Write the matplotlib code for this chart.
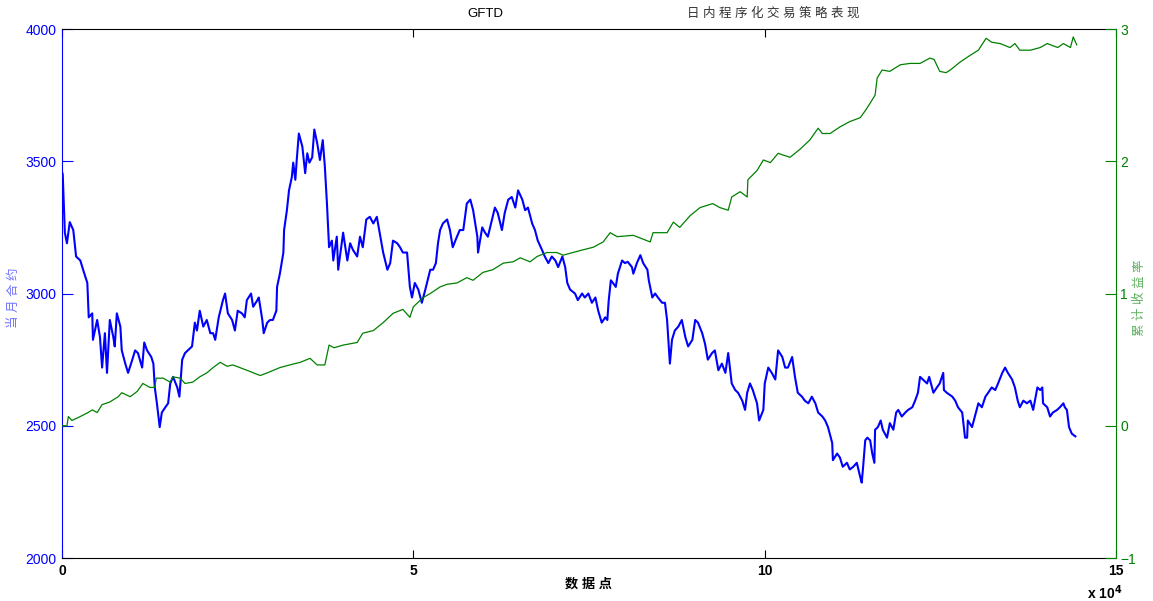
import numpy as np
import matplotlib.pyplot as plt

plt.rcParams['font.family'] = ['Liberation Sans', 'Noto Sans CJK SC']

# 当月合约价格（横轴单位：1e4 个数据点）
blue_x = [0.00, 0.01, 0.04, 0.07, 0.11, 0.16, 0.20, 0.26, 0.30, 0.36, 0.38, 0.43, 0.44, 0.50,
          0.54, 0.57, 0.61, 0.64, 0.68, 0.73, 0.75, 0.78, 0.83, 0.85, 0.90, 0.94, 1.00, 1.04,
          1.08, 1.14, 1.17, 1.21, 1.27, 1.30, 1.32, 1.35, 1.39, 1.42, 1.47, 1.51, 1.54, 1.58,
          1.64, 1.67, 1.71, 1.75, 1.79, 1.85, 1.89, 1.92, 1.96, 2.01, 2.06, 2.11, 2.15, 2.18,
          2.23, 2.29, 2.32, 2.36, 2.42, 2.46, 2.50, 2.56, 2.60, 2.63, 2.69, 2.72, 2.78, 2.80,
          2.85, 2.87, 2.92, 2.96, 3.00, 3.05, 3.06, 3.10, 3.15, 3.16, 3.20, 3.23, 3.27, 3.29,
          3.32, 3.34, 3.37, 3.42, 3.46, 3.49, 3.52, 3.56, 3.59, 3.63, 3.67, 3.71, 3.74, 3.77,
          3.80, 3.84, 3.86, 3.91, 3.93, 4.00, 4.06, 4.10, 4.14, 4.20, 4.24, 4.28, 4.33, 4.38,
          4.43, 4.48, 4.53, 4.57, 4.63, 4.67, 4.71, 4.77, 4.81, 4.85, 4.91, 4.95, 4.98, 5.02,
          5.07, 5.12, 5.17, 5.24, 5.28, 5.32, 5.35, 5.38, 5.42, 5.48, 5.52, 5.56, 5.62, 5.66,
          5.71, 5.76, 5.81, 5.85, 5.91, 5.92, 5.98, 6.02, 6.06, 6.12, 6.16, 6.20, 6.26, 6.30,
          6.35, 6.40, 6.45, 6.49, 6.55, 6.59, 6.63, 6.69, 6.73, 6.77, 6.83, 6.87, 6.92, 6.97,
          7.02, 7.06, 7.12, 7.16, 7.19, 7.23, 7.30, 7.34, 7.40, 7.44, 7.49, 7.54, 7.59, 7.63,
          7.68, 7.73, 7.76, 7.78, 7.81, 7.84, 7.88, 7.91, 7.97, 8.01, 8.05, 8.11, 8.13, 8.18,
          8.23, 8.27, 8.33, 8.35, 8.40, 8.44, 8.48, 8.54, 8.58, 8.61, 8.62, 8.65, 8.68, 8.72,
          8.77, 8.82, 8.87, 8.91, 8.97, 9.01, 9.05, 9.11, 9.15, 9.19, 9.25, 9.29, 9.34, 9.39,
          9.44, 9.48, 9.53, 9.58, 9.62, 9.68, 9.72, 9.75, 9.79, 9.83, 9.89, 9.92, 9.98, 10.00,
          10.05, 10.10, 10.15, 10.19, 10.25, 10.29, 10.33, 10.39, 10.43, 10.47, 10.53, 10.57,
          10.62, 10.67, 10.72, 10.76, 10.82, 10.86, 10.90, 10.96, 10.97, 11.03, 11.07, 11.11,
          11.17, 11.21, 11.26, 11.31, 11.36, 11.38, 11.40, 11.43, 11.46, 11.50, 11.53, 11.56,
          11.57, 11.61, 11.65, 11.68, 11.74, 11.78, 11.83, 11.87, 11.90, 11.95, 12.00, 12.04,
          12.10, 12.14, 12.18, 12.21, 12.25, 12.31, 12.34, 12.38, 12.40, 12.45, 12.49, 12.54,
          12.55, 12.59, 12.67, 12.71, 12.75, 12.81, 12.85, 12.88, 12.89, 12.95, 12.99, 13.04,
          13.09, 13.14, 13.18, 13.23, 13.28, 13.32, 13.38, 13.42, 13.46, 13.52, 13.56, 13.60,
          13.63, 13.68, 13.73, 13.78, 13.82, 13.88, 13.92, 13.95, 13.96, 14.02, 14.06, 14.10,
          14.16, 14.20, 14.25, 14.27, 14.30, 14.33, 14.37, 14.42]
blue_price = [3460, 3450, 3230, 3190, 3270, 3240, 3140, 3125, 3090, 3040, 2910, 2925, 2825, 2900,
              2835, 2720, 2850, 2700, 2900, 2835, 2800, 2925, 2875, 2785, 2735, 2700, 2750, 2785,
              2775, 2720, 2815, 2785, 2760, 2735, 2645, 2585, 2495, 2550, 2570, 2585, 2660, 2685,
              2645, 2610, 2750, 2775, 2785, 2800, 2890, 2860, 2935, 2875, 2900, 2850, 2850, 2825,
              2910, 2975, 3000, 2925, 2900, 2860, 2935, 2925, 2910, 2975, 3000, 2950, 2975, 2985,
              2900, 2850, 2890, 2900, 2900, 2935, 3025, 3075, 3155, 3240, 3315, 3390, 3440, 3495,
              3430, 3505, 3605, 3555, 3455, 3530, 3495, 3515, 3620, 3570, 3505, 3580, 3480, 3340,
              3175, 3200, 3125, 3215, 3090, 3230, 3125, 3190, 3165, 3140, 3215, 3175, 3280, 3290,
              3265, 3290, 3215, 3155, 3090, 3115, 3200, 3190, 3175, 3155, 3155, 3025, 2985, 3040,
              3015, 2965, 3015, 3090, 3090, 3115, 3190, 3240, 3265, 3280, 3240, 3175, 3215, 3240,
              3240, 3340, 3355, 3315, 3215, 3155, 3250, 3230, 3215, 3280, 3325, 3305, 3240, 3305,
              3355, 3365, 3325, 3390, 3355, 3315, 3325, 3265, 3240, 3200, 3165, 3140, 3115, 3140,
              3125, 3100, 3140, 3100, 3040, 3015, 3000, 2975, 3000, 2985, 3000, 2965, 2985, 2935,
              2890, 2910, 2900, 2975, 3050, 3040, 3025, 3075, 3125, 3115, 3120, 3100, 3075, 3115,
              3145, 3115, 3090, 3050, 2985, 3000, 2985, 2965, 2965, 2900, 2860, 2735, 2825, 2860,
              2875, 2900, 2835, 2800, 2825, 2900, 2890, 2850, 2810, 2750, 2775, 2785, 2710, 2735,
              2700, 2775, 2660, 2635, 2625, 2595, 2560, 2625, 2660, 2635, 2585, 2520, 2560, 2660,
              2720, 2700, 2675, 2785, 2760, 2720, 2720, 2760, 2685, 2625, 2610, 2595,
              2585, 2610, 2585, 2550, 2535, 2520, 2495, 2435, 2370, 2395, 2380, 2345,
              2360, 2335, 2345, 2360, 2305, 2285, 2345, 2445, 2455, 2445, 2395, 2360,
              2485, 2495, 2520, 2485, 2455, 2510, 2485, 2550, 2560, 2535, 2550, 2560,
              2570, 2595, 2625, 2685, 2675, 2660, 2685, 2645, 2625, 2645, 2660, 2700,
              2635, 2625, 2610, 2595, 2570, 2550, 2455, 2455, 2520, 2495, 2535, 2585,
              2570, 2610, 2625, 2645, 2635, 2660, 2700, 2720, 2700, 2675, 2645, 2595,
              2570, 2595, 2585, 2595, 2560, 2645, 2635, 2645, 2585, 2570, 2535, 2550,
              2560, 2570, 2585, 2570, 2560, 2495, 2470, 2460]

# 累计收益率
green_x = [0.00, 0.01, 0.03, 0.07, 0.09, 0.14, 0.26, 0.37, 0.43, 0.50, 0.57, 0.68, 0.80, 0.85,
           0.97, 1.07, 1.15, 1.25, 1.32, 1.34, 1.44, 1.54, 1.58, 1.68, 1.75, 1.86, 1.96, 2.06,
           2.15, 2.25, 2.35, 2.43, 2.63, 2.82, 2.92, 3.10, 3.24, 3.39, 3.53, 3.63, 3.74, 3.80,
           3.87, 4.00, 4.20, 4.28, 4.43, 4.57, 4.71, 4.85, 4.95, 5.00, 5.14, 5.24, 5.38, 5.48,
           5.62, 5.76, 5.85, 5.99, 6.13, 6.28, 6.42, 6.52, 6.66, 6.76, 6.90, 7.04, 7.13, 7.27,
           7.41, 7.56, 7.70, 7.80, 7.90, 8.13, 8.37, 8.41, 8.61, 8.70, 8.79, 8.94, 9.08, 9.26,
           9.36, 9.48, 9.53, 9.65, 9.75, 9.76, 9.89, 9.98, 10.08, 10.19, 10.36, 10.50, 10.64,
           10.76, 10.82, 10.93, 11.07, 11.21, 11.36, 11.44, 11.50, 11.57, 11.60, 11.67, 11.78,
           11.93, 12.07, 12.21, 12.35, 12.41, 12.49, 12.58, 12.64, 12.78, 12.92, 13.04, 13.15,
           13.23, 13.35, 13.49, 13.56, 13.63, 13.78, 13.92, 14.02, 14.17, 14.25, 14.35, 14.39,
           14.44]
green_ret = [0.00, 0.00, 0.00, 0.00, 0.07, 0.04, 0.07, 0.10, 0.12, 0.10, 0.16, 0.18, 0.22, 0.25,
             0.22, 0.26, 0.32, 0.29, 0.29, 0.36, 0.36, 0.33, 0.37, 0.36, 0.32, 0.33, 0.37, 0.40,
             0.44, 0.48, 0.45, 0.46, 0.42, 0.38, 0.40, 0.44, 0.46, 0.48, 0.51, 0.46, 0.46, 0.61,
             0.59, 0.61, 0.63, 0.70, 0.72, 0.78, 0.85, 0.88, 0.82, 0.90, 0.97, 1.00, 1.05, 1.07,
             1.08, 1.12, 1.10, 1.16, 1.18, 1.23, 1.24, 1.27, 1.24, 1.28, 1.31, 1.31, 1.29, 1.31,
             1.33, 1.35, 1.39, 1.46, 1.43, 1.44, 1.39, 1.46, 1.46, 1.54, 1.50, 1.59, 1.65, 1.68,
             1.65, 1.63, 1.73, 1.77, 1.73, 1.86, 1.93, 2.01, 1.99, 2.06, 2.03, 2.09, 2.16,
             2.25, 2.21, 2.21, 2.26, 2.30, 2.33, 2.39, 2.44, 2.50, 2.63, 2.69, 2.68,
             2.73, 2.74, 2.74, 2.78, 2.77, 2.68, 2.67, 2.69, 2.75, 2.80, 2.84, 2.93,
             2.90, 2.89, 2.86, 2.89, 2.84, 2.84, 2.86, 2.89, 2.86, 2.89, 2.86, 2.94,
             2.88]

x_ticks = [0, 5, 10, 15]
left_ticks = [2000, 2500, 3000, 3500, 4000]
right_ticks = [-1, 0, 1, 2, 3]

blue = '#0000ff'
green = '#008000'

fig = plt.figure(figsize=(11.53, 6.01), dpi=100)
ax1 = fig.add_axes([0.0538, 0.0715, 0.9142, 0.8802])
ax1.plot(np.array(blue_x) * 1e4, blue_price, color=blue, lw=1.5)
ax1.set_xlim(0, 150000)
ax1.set_ylim(2000, 4000)
ax1.set_xticks([t * 1e4 for t in x_ticks])
ax1.set_xticklabels([str(t) for t in x_ticks], fontsize=10, fontweight='bold')
ax1.set_yticks(left_ticks)
ax1.tick_params(axis='x', direction='in', length=6, top=True, pad=4)
ax1.tick_params(axis='y', direction='in', length=8, colors=blue, labelsize=10, pad=4)
ax1.spines['left'].set_color(blue)
ax1.spines['right'].set_visible(False)

ax2 = ax1.twinx()
ax2.plot(np.array(green_x) * 1e4, green_ret, color=green, lw=0.9)
ax2.set_ylim(-1, 3)
ax2.set_yticks(right_ticks)
ax2.tick_params(axis='y', direction='in', length=8, colors=green, labelsize=10, pad=3)
for s in ['left', 'top', 'bottom']:
    ax2.spines[s].set_visible(False)
ax2.spines['right'].set_color(green)

fig.text(0.421, 0.976, 'GFTD', fontsize=9.5, ha='center', va='center')
fig.text(0.671, 0.977, '日 内 程 序 化 交 易 策 略 表 现', fontsize=9, ha='center',
         va='center', color='#333333')
fig.text(0.51, 0.028, '数 据 点', fontsize=9.5, ha='center', va='center', fontweight='bold')
fig.text(0.958, 0.013, r'x 10$^{\mathbf{4}}$', fontsize=10, ha='center', va='center',
         fontweight='bold')
fig.text(0.012, 0.505, '当 月 合 约', fontsize=9, rotation=90, ha='center', va='center',
         color='#6f6fff')
fig.text(0.989, 0.505, '累 计 收 益 率', fontsize=9, rotation=90, ha='center', va='center',
         color='#5fb05f')

fig.savefig('out.png', dpi=100)
